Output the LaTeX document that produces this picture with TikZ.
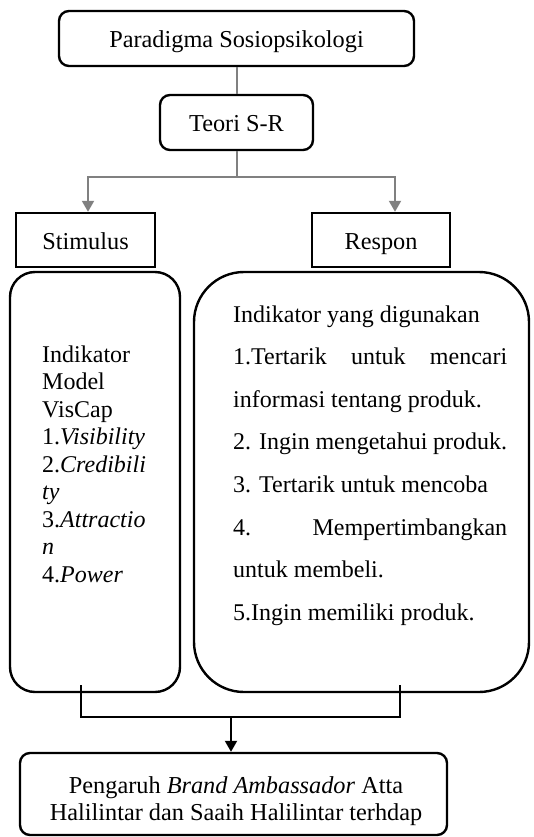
\documentclass[tikz,border=0pt]{standalone}
\usepackage{fontspec}
\setmainfont{Liberation Serif}
\usetikzlibrary{arrows.meta}
\definecolor{linegray}{RGB}{128,128,128}
\tikzset{
  rbox/.style={draw=black, line width=2.4pt, rounded corners=10pt, inner sep=0pt, text height=19pt, text depth=0pt, font=\fontsize{24.3}{27}\selectfont},
  sbox/.style={draw=black, line width=2.4pt, inner sep=0pt, text height=19pt, text depth=0pt, font=\fontsize{24.3}{27}\selectfont},
  bigbox/.style={draw=black, line width=2.4pt, inner sep=0pt},
  grayline/.style={draw=linegray, line width=2pt},
  grayarrow/.style={grayline, -{Triangle[width=12pt,length=11pt]}},
  blackline/.style={draw=black, line width=2pt},
  blackarrow/.style={blackline, -{Triangle[width=12pt,length=11pt]}},
  txt/.style={inner sep=0pt, anchor=base west}
}
\begin{document}
\begin{tikzpicture}[x=1pt,y=-1pt]
\useasboundingbox (0,0) rectangle (533,837);
% boxes
\node[rbox, minimum width=355pt, minimum height=55pt] (top) at (236.5,38.5) {Paradigma Sosiopsikologi};
\node[rbox, minimum width=153pt, minimum height=55pt] (teori) at (236.5,122.5) {Teori S-R};
\node[sbox, minimum width=139pt, minimum height=54pt] (stim) at (85.5,240) {Stimulus};
\node[sbox, minimum width=138pt, minimum height=54pt] (resp) at (381,240) {Respon};
\node[bigbox, rounded corners=25pt, minimum width=170pt, minimum height=420pt] (stimbig) at (95,482) {};
\node[bigbox, rounded corners=50pt, minimum width=335pt, minimum height=420pt] (respbig) at (361.5,482) {};
\node[bigbox, rounded corners=10pt, minimum width=427pt, minimum height=82pt] (bottom) at (233.5,794) {};
% texts
\node[txt] (stimtext) at (42,362) {\parbox[t]{130pt}{\fontsize{24}{27.5}\selectfont\noindent
Indikator\\Model\\VisCap\\1.\textit{Visibility}\\2.\textit{Credibili}\\\textit{ty}\\3.\textit{Attractio}\\\textit{n}\\4.\textit{Power}}};
\node[txt] (resptext) at (233,322) {\parbox[t]{274pt}{\fontsize{24}{42.6}\selectfont\noindent
Indikator yang digunakan\\
\hbox to\linewidth{1.Tertarik\hfill untuk\hfill mencari}\\
informasi tentang produk.\\
2. Ingin mengetahui produk.\\
3. Tertarik untuk mencoba\\
\hbox to\linewidth{4.\hfill Mempertimbangkan}\\
untuk membeli.\\
5.Ingin memiliki produk.}};
\node[inner sep=0pt, anchor=base] (bottomtext) at (236,793) {\parbox[t]{420pt}{\fontsize{24.3}{27}\selectfont\centering
Pengaruh \textit{Brand Ambassador} Atta\\
Halilintar dan Saaih Halilintar terhdap}};
% connectors
\coordinate (split) at (236.5,177);
\draw[grayline] (top.south) -- (teori.north);
\draw[grayline] (teori.south) -- (split);
\draw[grayarrow] (split) -| ([xshift=2.5pt]stim.north);
\draw[grayarrow] (split) -| ([xshift=14pt]resp.north);
\coordinate (join) at (231,717);
\draw[blackline] ([xshift=-14.5pt,yshift=8pt]stimbig.south) -- ([xshift=-14.5pt]stimbig.south |- join) -- ([xshift=38.5pt]respbig.south |- join) -- ([xshift=38.5pt,yshift=8pt]respbig.south);
\draw[blackarrow] (join) -- (join |- bottom.north);
\end{tikzpicture}
\end{document}
